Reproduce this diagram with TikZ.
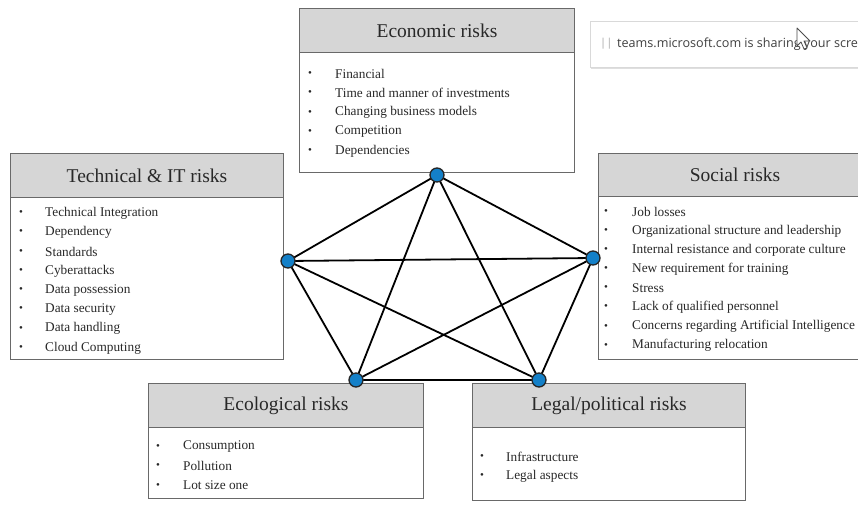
\documentclass[tikz,border=0pt]{standalone}
\usepackage{fontspec}
\setmainfont{Liberation Serif}
\newfontfamily\uifont{Open Sans}
\usetikzlibrary{shadows}
\definecolor{hdrgray}{RGB}{214,214,214}
\definecolor{bordgray}{RGB}{105,105,105}
\definecolor{txtgray}{RGB}{40,40,40}
\definecolor{nodeblue}{RGB}{20,128,200}
\tikzset{
  hdrbox/.style={draw=bordgray, fill=hdrgray, line width=1pt, anchor=north west, inner sep=0pt,
    font=\fontsize{19.5}{22}\selectfont, text=txtgray},
  bodybox/.style={draw=bordgray, fill=white, line width=1pt, anchor=north west, inner sep=0pt},
  bul/.style={inner sep=0pt, font=\fontsize{11}{11}\selectfont, text=txtgray},
  itemtext/.style={anchor=west, inner sep=0pt, font=\fontsize{13.3}{15}\selectfont, text=txtgray},
  vertex/.style={circle, fill=nodeblue, draw=black!85, line width=1.3pt, minimum size=14pt, inner sep=0pt},
  edge/.style={line width=1.8pt, black}
}
\begin{document}
\begin{tikzpicture}[x=1pt,y=-1pt]
\useasboundingbox (0,0) rectangle (858,505);
\clip (0,0) rectangle (858,505);
\fill[white] (0,0) rectangle (858,505);

% Economic
\node[bodybox, minimum width=275pt, minimum height=120pt] (ecb) at (299,52) {};
\node[hdrbox, minimum width=275pt, minimum height=44pt] (ech) at (299,8) {Economic risks};
\foreach \t [count=\i] in {Financial, Time and manner of investments, Changing business models, Competition, Dependencies}{
  \node[bul] (ebul\i) at (310,{74+19.3*(\i-1)}) {\textbullet};
  \node[itemtext] (eit\i) at (335,{74+19.3*(\i-1)}) {\t};
}

% Technical
\node[bodybox, minimum width=273pt, minimum height=162pt] (teb) at (10,197) {};
\node[hdrbox, minimum width=273pt, minimum height=44pt] (teh) at (10,153) {Technical \& IT risks};
\foreach \t [count=\i] in {Technical Integration, Dependency, Standards, Cyberattacks, Data possession, Data security, Data handling, Cloud Computing}{
  \node[bul] (tbul\i) at (21,{213+19.3*(\i-1)}) {\textbullet};
  \node[itemtext] (tit\i) at (45,{213+19.3*(\i-1)}) {\t};
}

% Social
\node[bodybox, minimum width=273pt, minimum height=163pt] (sob) at (598,196) {};
\node[hdrbox, minimum width=273pt, minimum height=43pt] (soh) at (598,153) {Social risks};
\foreach \t [count=\i] in {Job losses, Organizational structure and leadership, Internal resistance and corporate culture, New requirement for training, Stress, Lack of qualified personnel, Concerns regarding Artificial Intelligence, Manufacturing relocation}{
  \node[bul] (sbul\i) at (606,{212+19.1*(\i-1)}) {\textbullet};
  \node[itemtext] (sit\i) at (632,{212+19.1*(\i-1)}) {\t};
}

% Ecological
\node[bodybox, minimum width=275pt, minimum height=71pt] (ecob) at (148,427) {};
\node[hdrbox, minimum width=275pt, minimum height=44pt] (ecoh) at (148,383) {Ecological risks};
\foreach \t [count=\i] in {Consumption, Pollution, Lot size one}{
  \node[bul] (cbul\i) at (158,{447+19.3*(\i-1)}) {\textbullet};
  \node[itemtext] (cit\i) at (183,{447+19.3*(\i-1)}) {\t};
}

% Legal
\node[bodybox, minimum width=273pt, minimum height=73pt] (leb) at (472,427) {};
\node[hdrbox, minimum width=273pt, minimum height=44pt] (leh) at (472,383) {Legal/political risks};
\foreach \t [count=\i] in {Infrastructure, Legal aspects}{
  \node[bul] (lbul\i) at (482,{457+19.3*(\i-1)}) {\textbullet};
  \node[itemtext] (lit\i) at (506,{457+19.3*(\i-1)}) {\t};
}

% Teams banner
\node[draw=black!15, fill=white, drop shadow={opacity=0.25, shadow xshift=1pt, shadow yshift=-1.5pt},
  anchor=north west, minimum width=280pt, minimum height=46pt, inner sep=0pt] (banner) at (590,21) {};
\node[anchor=west, inner sep=0pt, text=black!35, font=\uifont\fontsize{11}{12}\selectfont] (pause) at (600,44) {||};
\node[anchor=west, inner sep=0pt, text=black!75, font=\uifont\fontsize{12.6}{14}\selectfont] (btext) at (617,44) {teams.microsoft.com is sharing your scre};
% cursor
\draw[fill=white, draw=black!70, line width=0.8pt, line join=round]
  (797,28) -- (797,46) -- (801,42) -- (804,49) -- (807,48) -- (804,41) -- (810,41) -- cycle;

% Network
\coordinate (pT) at (437,175);
\coordinate (pL) at (288,261);
\coordinate (pR) at (593,258);
\coordinate (pBL) at (356,380);
\coordinate (pBR) at (539,380);
\draw[edge] (pT) -- (pL);
\draw[edge] (pT) -- (pR);
\draw[edge] (pT) -- (pBL);
\draw[edge] (pT) -- (pBR);
\draw[edge] (pL) -- (pR);
\draw[edge] (pL) -- (pBL);
\draw[edge] (pL) -- (pBR);
\draw[edge] (pR) -- (pBL);
\draw[edge] (pR) -- (pBR);
\draw[edge] (pBL) -- (pBR);
\node[vertex] (vT) at (pT) {};
\node[vertex] (vL) at (pL) {};
\node[vertex] (vR) at (pR) {};
\node[vertex] (vBL) at (pBL) {};
\node[vertex] (vBR) at (pBR) {};
\end{tikzpicture}
\end{document}
